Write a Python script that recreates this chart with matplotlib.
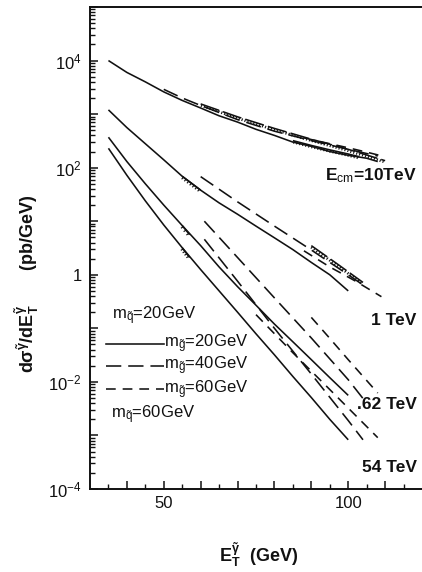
import matplotlib
matplotlib.use('Agg')
import matplotlib.pyplot as plt
import matplotlib.patheffects as pe
from matplotlib.ticker import LogLocator, NullFormatter, FixedLocator

plt.rcParams['font.family'] = ['Liberation Sans', 'DejaVu Sans']
plt.rcParams['mathtext.fontset'] = 'custom'
plt.rcParams['mathtext.rm'] = 'Liberation Sans'
plt.rcParams['mathtext.it'] = 'Liberation Sans:italic'
plt.rcParams['mathtext.bf'] = 'Liberation Sans:bold'
plt.rcParams['mathtext.default'] = 'rm'
plt.rcParams['lines.scale_dashes'] = False

# ---------------- data ----------------
# Ecm = 10 TeV
x10_solid = [35, 40, 45, 50, 55, 60, 65, 70, 75, 80, 85, 90, 95, 100, 105, 108]
y10_solid = [1.0e4, 6.0e3, 4.0e3, 2.6e3, 1.8e3, 1.3e3, 9.3e2, 7.1e2, 5.2e2, 4.0e2,
             3.0e2, 2.5e2, 2.0e2, 1.7e2, 1.5e2, 1.3e2]
x10_ldash = [50, 55, 60, 70, 80, 90, 100, 108]
y10_ldash = [2.9e3, 2.0e3, 1.45e3, 7.9e2, 4.8e2, 3.2e2, 2.2e2, 1.65e2]
x10_dash = [88, 95, 100, 105, 110]
y10_dash = [3.6e2, 2.8e2, 2.35e2, 1.95e2, 1.6e2]
x10_hatch_a = [60, 70, 80, 90, 100, 110]
y10_hatch_a = [1.55e3, 8.9e2, 5.4e2, 3.4e2, 2.2e2, 1.35e2]
x10_hatch_b = [85, 90, 95, 100, 103]
y10_hatch_b = [3.2e2, 2.6e2, 2.15e2, 1.8e2, 1.6e2]

# Ecm = 1 TeV
x1_solid = [35, 40, 45, 50, 55, 60, 65, 70, 75, 80, 85, 90, 95, 100]
y1_solid = [1.2e3, 5.6e2, 2.8e2, 1.4e2, 69, 38, 22, 13.5, 8.1, 4.9, 2.95, 1.7, 1.0, 0.5]
x1_ldash = [60, 70, 80, 90, 100, 105]
y1_ldash = [68, 23, 8.1, 2.9, 1.0, 0.58]
x1_dash = [88, 95, 102, 109]
y1_dash = [2.8, 1.4, 0.76, 0.39]
x1_hatch = [90, 97, 104]
y1_hatch = [3.5, 1.6, 0.72]
x1_hatch_s = [55, 60]
y1_hatch_s = [69, 38]

# Ecm = .62 TeV
x62_solid = [35, 40, 45, 50, 55, 60, 65, 70, 75, 80, 85, 90, 95, 100]
y62_solid = [3.7e2, 1.3e2, 50, 20, 8.3, 3.5, 1.4, 0.6, 0.27, 0.12, 0.056, 0.026, 0.012, 0.0056]
x62_ldash = [61, 70, 80, 90, 100, 104]
y62_ldash = [10, 2.1, 0.37, 0.066, 0.011, 0.0049]
x62_dash = [90, 95, 100, 108]
y62_dash = [0.16, 0.065, 0.026, 0.0062]
x62_hatch_s = [55, 57]
y62_hatch_s = [8.3, 5.6]

# Ecm = .54 TeV
x54_solid = [35, 40, 45, 50, 55, 60, 65, 70, 75, 80, 85, 90, 95, 100]
y54_solid = [2.3e2, 72, 24, 8.5, 3.2, 1.25, 0.5, 0.2, 0.079, 0.032, 0.0126, 0.0051, 0.002, 0.00083]
x54_ldash = [61, 70, 80, 90, 100, 104]
y54_ldash = [4.6, 0.76, 0.10, 0.014, 0.0019, 0.00083]
x54_dash = [75, 85, 95, 108]
y54_dash = [0.18, 0.035, 0.0072, 0.00091]
x54_hatch_s = [55, 57]
y54_hatch_s = [3.2, 2.1]

energy_labels = [r'E$_{\mathrm{cm}}$=10TeV', '1 TeV', '.62 TeV', '54 TeV']
legend_texts = [r'm$_{\tilde{q}}$=20GeV', r'm$_{\tilde{g}}$=20GeV',
                r'm$_{\tilde{g}}$=40GeV', r'm$_{\tilde{g}}$=60GeV', r'm$_{\tilde{q}}$=60GeV']
y_tick_values = [1e-4, 1e-2, 1, 1e2, 1e4]
y_tick_labels = [r'$10^{-4}$', r'$10^{-2}$', '1', r'$10^{2}$', r'$10^{4}$']
x_tick_values = [50, 100]
x_tick_labels = ['50', '100']

# ---------------- styles ----------------
INK = '#111111'
LW = 1.15
SOLID = '-'
LDASH = (0, (11, 5))
DASH = (0, (7, 5))
HATCH_DASH = (0, (14, 3))
hatch_fx = [pe.withTickedStroke(angle=-95, spacing=2.2, length=0.9, linewidth=0.8)]

fig = plt.figure(figsize=(4.22, 5.72), dpi=100)
ax = fig.add_axes([90 / 422, 1 - 489 / 572, 332 / 422, 482 / 572])
ax.set_yscale('log')
ax.set_xlim(30, 120)
ax.set_ylim(1e-4, 1e5)


def line(x, y, ls, fx=None):
    ax.plot(x, y, color=INK, lw=LW, linestyle=ls, path_effects=fx,
            solid_capstyle='butt', dash_capstyle='butt')


groups = [
    (x10_solid, y10_solid, x10_ldash, y10_ldash, x10_dash, y10_dash),
    (x1_solid, y1_solid, x1_ldash, y1_ldash, x1_dash, y1_dash),
    (x62_solid, y62_solid, x62_ldash, y62_ldash, x62_dash, y62_dash),
    (x54_solid, y54_solid, x54_ldash, y54_ldash, x54_dash, y54_dash),
]
for xs, ys, xl, yl, xd, yd in groups:
    line(xs, ys, SOLID)
    line(xl, yl, LDASH)
    line(xd, yd, DASH)

line(x10_hatch_a, y10_hatch_a, HATCH_DASH, hatch_fx)
line(x10_hatch_b, y10_hatch_b, SOLID, hatch_fx)
line(x1_hatch, y1_hatch, HATCH_DASH, hatch_fx)
line(x1_hatch_s, y1_hatch_s, SOLID, hatch_fx)
line(x62_hatch_s, y62_hatch_s, SOLID, hatch_fx)
line(x54_hatch_s, y54_hatch_s, SOLID, hatch_fx)

# energy labels
label_y = [10 ** 1.86, 10 ** -0.86, 10 ** -2.42, 10 ** -3.59]
for txt, yy in zip(energy_labels, label_y):
    ax.text(118.6, yy, txt, ha='right', va='center', fontsize=12.5,
            fontweight='bold', color=INK)

# legend (drawn in axes coordinates)
tf = ax.transAxes
ax.text(0.066, 0.359, legend_texts[0], transform=tf, fontsize=12, va='center', color=INK)
for fy, ls, txt in [(0.301, SOLID, legend_texts[1]), (0.255, LDASH, legend_texts[2]),
                    (0.207, DASH, legend_texts[3])]:
    ax.plot([0.048, 0.222], [fy, fy], transform=tf, color=INK, lw=LW, linestyle=ls)
    ax.text(0.222, fy, txt, transform=tf, fontsize=12, va='center', color=INK)
ax.text(0.063, 0.154, legend_texts[4], transform=tf, fontsize=12, va='center', color=INK)

# axes / ticks
for s in ['left', 'bottom', 'top']:
    ax.spines[s].set_linewidth(1.4)
    ax.spines[s].set_color(INK)
ax.spines['right'].set_visible(False)

decades = [10.0 ** k for k in range(-4, 6)]
ax.yaxis.set_major_locator(FixedLocator(decades))
lab_map = dict(zip(y_tick_values, y_tick_labels))
ax.set_yticklabels([lab_map.get(d, '') for d in decades])
ax.yaxis.set_minor_locator(LogLocator(base=10, subs=range(2, 10), numticks=30))
ax.yaxis.set_minor_formatter(NullFormatter())

ax.xaxis.set_major_locator(FixedLocator(list(range(40, 120, 10))))
ax.set_xticklabels(['' if v not in x_tick_values else x_tick_labels[x_tick_values.index(v)]
                    for v in range(40, 120, 10)])
ax.xaxis.set_minor_locator(FixedLocator(list(range(35, 120, 10))))

ax.tick_params(axis='both', which='both', direction='in', color=INK,
               top=False, right=False, labelsize=12, labelcolor=INK)
ax.tick_params(axis='both', which='major', length=6, width=1.1)
ax.tick_params(axis='both', which='minor', length=3.5, width=1.0)
ax.tick_params(axis='y', pad=6)
ax.tick_params(axis='x', pad=5)

ax.set_ylabel(r'$\mathbf{d\sigma^{\tilde{\gamma}}/dE_T^{\tilde{\gamma}}}$       (pb/GeV)',
              fontsize=13, fontweight='bold', color=INK)
ax.yaxis.set_label_coords(-0.145, 0.425)
ax.set_xlabel(r'$\mathbf{E_T^{\tilde{\gamma}}}$  (GeV)', fontsize=13,
              fontweight='bold', color=INK)
ax.xaxis.set_label_coords(0.509, -0.108)

fig.savefig('out.png', dpi=100)
